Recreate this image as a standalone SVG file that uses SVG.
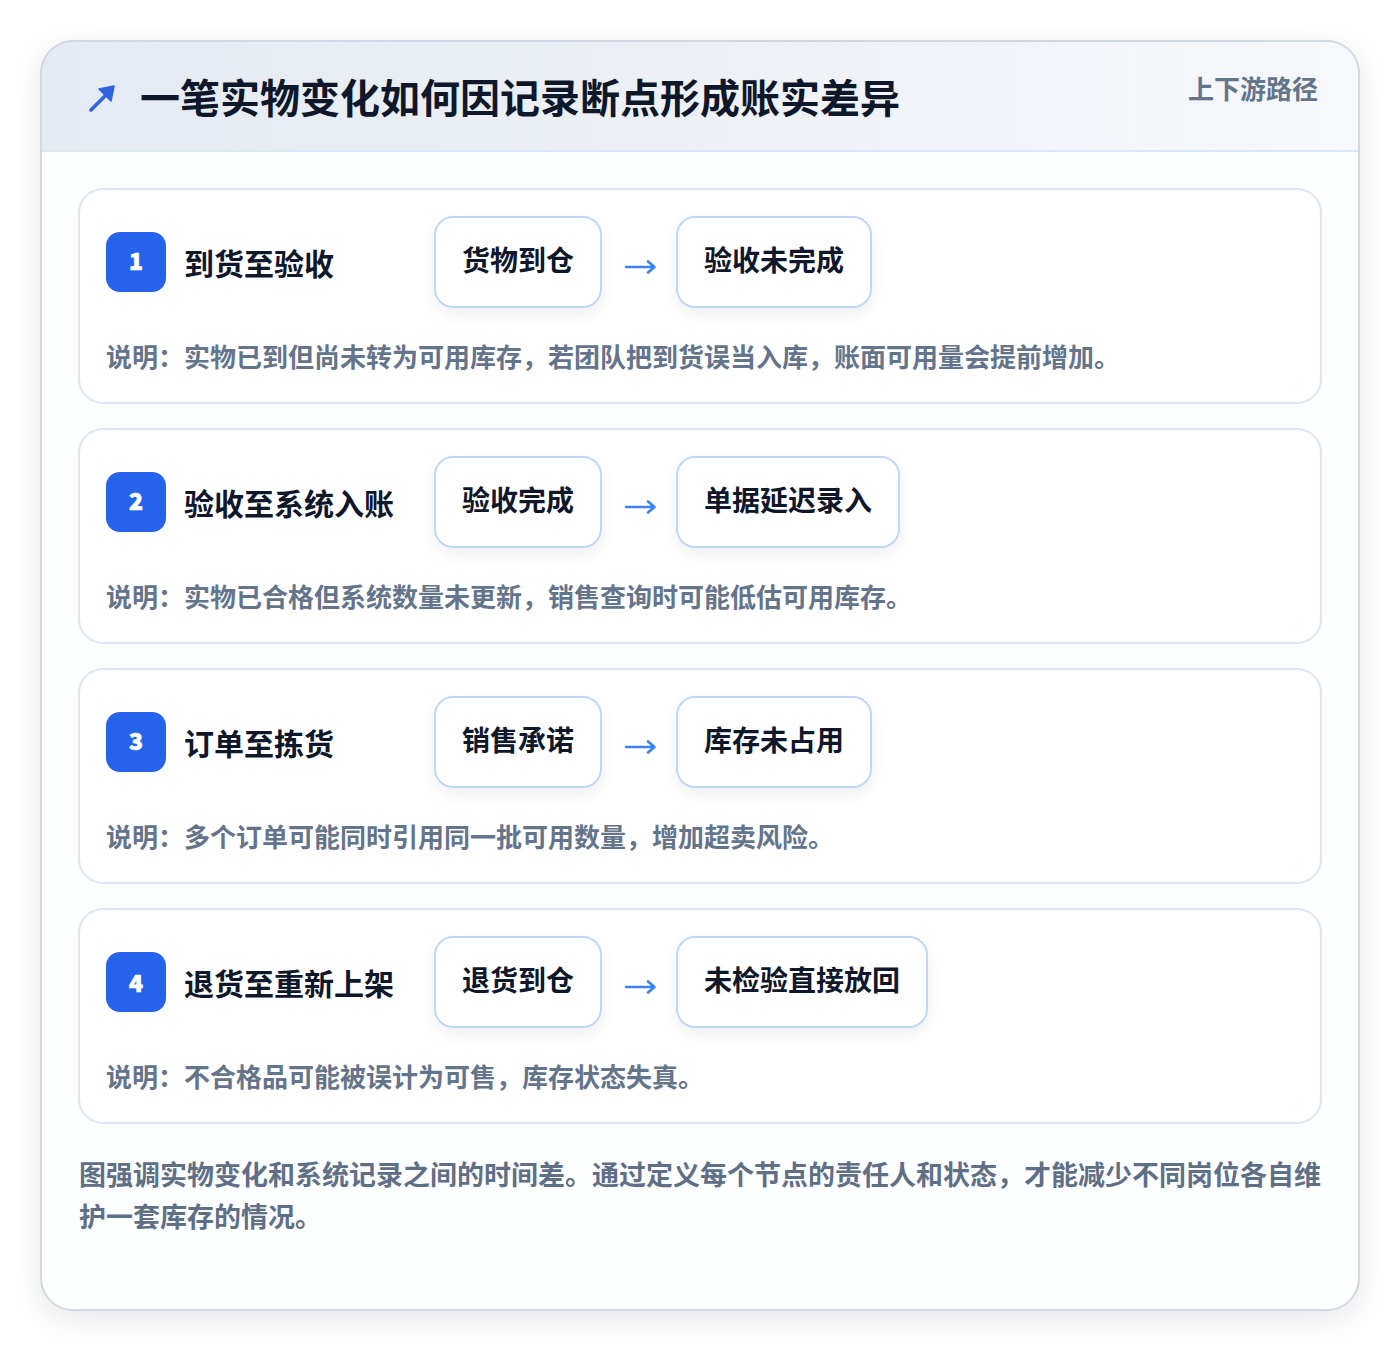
<svg xmlns="http://www.w3.org/2000/svg" width="1400" height="1352" viewBox="0 0 1400 1352">
  <defs>
    <linearGradient id="hdr" x1="0" y1="0" x2="1" y2="0">
      <stop offset="0" stop-color="#e4eaf2"/>
      <stop offset="1" stop-color="#f6f8fb"/>
    </linearGradient>
    <filter id="cardShadow" x="-10%" y="-10%" width="120%" height="120%">
      <feDropShadow dx="0" dy="8" stdDeviation="14" flood-color="#0f172a" flood-opacity="0.10"/>
    </filter>
    <filter id="nodeShadow" x="-20%" y="-20%" width="140%" height="160%">
      <feDropShadow dx="0" dy="6" stdDeviation="7" flood-color="#0f172a" flood-opacity="0.06"/>
    </filter>
    <clipPath id="outerClip">
      <rect x="41" y="41" width="1318" height="1269" rx="32"/>
    </clipPath>
    <style>
      .cjk { font-family: "Noto Sans CJK SC", "Noto Sans", sans-serif; font-weight: 700; }
      .title { font-size: 40px; fill: #0f172a; }
      .tag { font-size: 26px; fill: #64748b; }
      .step { fill: #ffffff; stroke: #dbe7f7; stroke-width: 2; }
      .badge { fill: #2563eb; }
      .num { font-family: "Noto Sans CJK SC", "Noto Sans", sans-serif; font-weight: 900; font-size: 23px; fill: #ffffff; stroke: #ffffff; stroke-width: 0.7; }
      .stitle { font-size: 30px; fill: #0f172a; }
      .node { fill: #ffffff; stroke: #bfd6f6; stroke-width: 2; }
      .ntext { font-size: 28px; fill: #0f172a; }
      .desc { font-size: 26px; fill: #64748b; }
      .foot { font-size: 27px; fill: #5f6f86; }
      .conn { fill: none; stroke: #3b82f6; stroke-width: 2.6; stroke-linecap: round; stroke-linejoin: round; }
    </style>
  </defs>

  <rect x="0" y="0" width="1400" height="1352" fill="#ffffff"/>

  <g id="outer-card">
    <rect x="41" y="41" width="1318" height="1269" rx="32" fill="#fdfeff" filter="url(#cardShadow)"/>
    <g clip-path="url(#outerClip)">
      <rect x="41" y="41" width="1318" height="110" fill="url(#hdr)"/>
      <line x1="41" y1="151" x2="1359" y2="151" stroke="#dbe7f7" stroke-width="2"/>
    </g>
    <rect x="41" y="41" width="1318" height="1269" rx="32" fill="none" stroke="#cfd8e3" stroke-width="2"/>
  </g>

  <g id="header">
    <g id="icon">
      <line x1="91" y1="110" x2="108" y2="93" stroke="#2f63e0" stroke-width="3.6" stroke-linecap="round"/>
      <polygon points="114,86 111,101 99,89" fill="#2f63e0" stroke="#2f63e0" stroke-width="1.5" stroke-linejoin="round"/>
    </g>
    <text class="cjk title" x="140" y="113">一笔实物变化如何因记录断点形成账实差异</text>
    <text class="cjk tag" x="1318" y="99" text-anchor="end">上下游路径</text>
  </g>

  <g id="step-1" transform="translate(0,189)">
    <rect class="step" x="79" y="0" width="1242" height="214" rx="24"/>
    <rect class="badge" x="106" y="43" width="60" height="60" rx="14"/>
    <text class="num" x="136" y="81" text-anchor="middle">1</text>
    <text class="cjk stitle" x="184" y="86">到货至验收</text>
    <g id="node-1a"><rect class="node" x="435" y="28" width="166" height="90" rx="18" filter="url(#nodeShadow)"/>
      <text class="cjk ntext" x="518" y="82" text-anchor="middle">货物到仓</text></g>
    <g id="node-1b"><rect class="node" x="677" y="28" width="194" height="90" rx="18" filter="url(#nodeShadow)"/>
      <text class="cjk ntext" x="774" y="82" text-anchor="middle">验收未完成</text></g>
    <text class="cjk desc" x="106" y="178">说明：实物已到但尚未转为可用库存，若团队把到货误当入库，账面可用量会提前增加。</text>
  </g>

  <g id="step-2" transform="translate(0,429)">
    <rect class="step" x="79" y="0" width="1242" height="214" rx="24"/>
    <rect class="badge" x="106" y="43" width="60" height="60" rx="14"/>
    <text class="num" x="136" y="81" text-anchor="middle">2</text>
    <text class="cjk stitle" x="184" y="86">验收至系统入账</text>
    <g id="node-2a"><rect class="node" x="435" y="28" width="166" height="90" rx="18" filter="url(#nodeShadow)"/>
      <text class="cjk ntext" x="518" y="82" text-anchor="middle">验收完成</text></g>
    <g id="node-2b"><rect class="node" x="677" y="28" width="222" height="90" rx="18" filter="url(#nodeShadow)"/>
      <text class="cjk ntext" x="788" y="82" text-anchor="middle">单据延迟录入</text></g>
    <text class="cjk desc" x="106" y="178">说明：实物已合格但系统数量未更新，销售查询时可能低估可用库存。</text>
  </g>

  <g id="step-3" transform="translate(0,669)">
    <rect class="step" x="79" y="0" width="1242" height="214" rx="24"/>
    <rect class="badge" x="106" y="43" width="60" height="60" rx="14"/>
    <text class="num" x="136" y="81" text-anchor="middle">3</text>
    <text class="cjk stitle" x="184" y="86">订单至拣货</text>
    <g id="node-3a"><rect class="node" x="435" y="28" width="166" height="90" rx="18" filter="url(#nodeShadow)"/>
      <text class="cjk ntext" x="518" y="82" text-anchor="middle">销售承诺</text></g>
    <g id="node-3b"><rect class="node" x="677" y="28" width="194" height="90" rx="18" filter="url(#nodeShadow)"/>
      <text class="cjk ntext" x="774" y="82" text-anchor="middle">库存未占用</text></g>
    <text class="cjk desc" x="106" y="178">说明：多个订单可能同时引用同一批可用数量，增加超卖风险。</text>
  </g>

  <g id="step-4" transform="translate(0,909)">
    <rect class="step" x="79" y="0" width="1242" height="214" rx="24"/>
    <rect class="badge" x="106" y="43" width="60" height="60" rx="14"/>
    <text class="num" x="136" y="83" text-anchor="middle">4</text>
    <text class="cjk stitle" x="184" y="86">退货至重新上架</text>
    <g id="node-4a"><rect class="node" x="435" y="28" width="166" height="90" rx="18" filter="url(#nodeShadow)"/>
      <text class="cjk ntext" x="518" y="82" text-anchor="middle">退货到仓</text></g>
    <g id="node-4b"><rect class="node" x="677" y="28" width="250" height="90" rx="18" filter="url(#nodeShadow)"/>
      <text class="cjk ntext" x="802" y="82" text-anchor="middle">未检验直接放回</text></g>
    <text class="cjk desc" x="106" y="178">说明：不合格品可能被误计为可售，库存状态失真。</text>
  </g>

  <g id="connectors">
    <path class="conn" d="M626 267 H654 M648 261.5 L654.5 267 L648 272.5"/>
    <path class="conn" d="M626 507 H654 M648 501.5 L654.5 507 L648 512.5"/>
    <path class="conn" d="M626 747 H654 M648 741.5 L654.5 747 L648 752.5"/>
    <path class="conn" d="M626 987 H654 M648 981.5 L654.5 987 L648 992.5"/>
  </g>

  <g id="footer">
    <text class="cjk foot" x="79" y="1185">图强调实物变化和系统记录之间的时间差。通过定义每个节点的责任人和状态，才能减少不同岗位各自维</text>
    <text class="cjk foot" x="79" y="1227">护一套库存的情况。</text>
  </g>
</svg>
